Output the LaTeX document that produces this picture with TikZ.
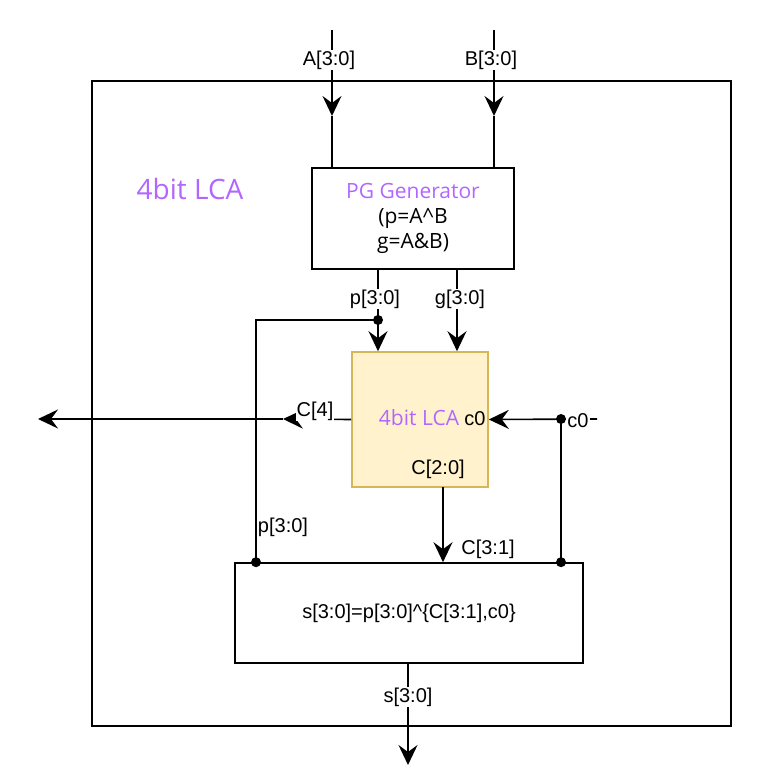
\documentclass[tikz,border=0pt]{standalone}
\usepackage{fontspec}
\setmainfont{Liberation Sans}
\newfontfamily\comicfont{Open Sans}
\usepackage{tikz}
\usetikzlibrary{arrows.meta,positioning}
\usetikzlibrary{calc}
\definecolor{lcapurple}{RGB}{178,102,255}
\definecolor{lcafill}{RGB}{255,242,204}
\definecolor{lcaline}{RGB}{214,182,86}

\begin{document}
\begin{tikzpicture}[
  x=1pt, y=-1pt,
  font=\fontsize{20}{23}\selectfont,
  box/.style={draw, line width=1.6pt, inner sep=0pt},
  wire/.style={line width=1.6pt},
  arr/.style={wire, -{Stealth[length=20pt, width=19pt, inset=7pt]}},
  lbl/.style={fill=white, inner sep=1pt},
  dot/.style={circle, fill, inner sep=0pt, minimum size=10pt},
  comic/.style={font=\comicfont\fontsize{21}{25}\selectfont}
]
  \useasboundingbox (0,0) rectangle (770,784);

  % outer frame
  \node[box, minimum width=639pt, minimum height=645pt] (frame) at (411.5,403.5) {};
  \node[comic, text=lcapurple, font=\comicfont\fontsize{28}{30}\selectfont] (title) at (190,189) {4bit LCA};

  % blocks
  \node[box, comic, minimum width=202pt, minimum height=101pt, align=center] (pg) at (413,218.5)
    {{\color{lcapurple}PG Generator}\\(p=A\textasciicircum B\\g=A\&B)};
  \node[box, draw=lcaline, fill=lcafill, minimum width=136pt, minimum height=135pt] (lca) at (420,419.5) {};
  \node[comic, text=lcapurple] (lcatxt) at (419,418) {4bit LCA};
  \node (lcacin) at (475,419) {c0};
  \node (lcacout) at (438,469) {C[2:0]};
  \node[box, minimum width=348pt, minimum height=100pt] (sum) at (409,613)
    {s[3:0]=p[3:0]\textasciicircum\{C[3:1],c0\}};

  % inputs A, B
  \coordinate (ain) at (332,30);
  \coordinate (atip) at (332,116);
  \coordinate (bin) at (494,30);
  \coordinate (btip) at (494,116);
  \draw[arr] (ain) -- (atip);
  \draw[wire] (atip) -- (atip |- pg.north);
  \draw[arr] (bin) -- (btip);
  \draw[wire] (btip) -- (btip |- pg.north);

  % p, g buses
  \node[dot] (pdot) at (378,320) {};
  \coordinate (gbus) at (457,320);
  \draw[arr] (pg.south -| pdot) -- (pdot |- lca.north);
  \draw[arr] (pg.south -| gbus) -- (gbus |- lca.north);
  \coordinate (pcorner) at (256,320);
  \node[dot] (sdot) at (sum.north -| pcorner) {};
  \draw[wire] (pdot.center) -- (pcorner) -- (sdot.center);

  % carry out
  \coordinate (c4) at (283,419);
  \coordinate (cout) at (38,419);
  \draw[arr] (lca.west) -- (c4);
  \draw[arr] (c4) -- (cout);

  % carry in
  \coordinate (cin) at (597,419);
  \draw[arr] (cin) -- (lca.east);
  \node[dot] (cdot) at (561,419) {};
  \node[dot] (cdot2) at (sum.north -| cdot) {};
  \draw[wire] (cdot.center) -- (cdot2.center);

  % carries to sum
  \coordinate (cbus) at (443,487);
  \draw[arr] (cbus) -- (cbus |- sum.north);

  % sum out
  \coordinate (sout) at (408,765);
  \draw[arr] (sum.south -| sout) -- (sout);

  % labels
  \node[lbl] (alab) at (329,60) {A[3:0]};
  \node[lbl] (blab) at (491,60) {B[3:0]};
  \node[lbl] (plab) at (375,299) {p[3:0]};
  \node[lbl] (glab) at (460,299) {g[3:0]};
  \node[lbl] (c4lab) at (315,411) {C[4]};
  \node[lbl] (c0lab) at (578,421) {c0};
  \node (pfb) at (283,527) {p[3:0]};
  \node (c31) at (488,549) {C[3:1]};
  \node[lbl] (slab) at (408,697) {s[3:0]};
\end{tikzpicture}
\end{document}
